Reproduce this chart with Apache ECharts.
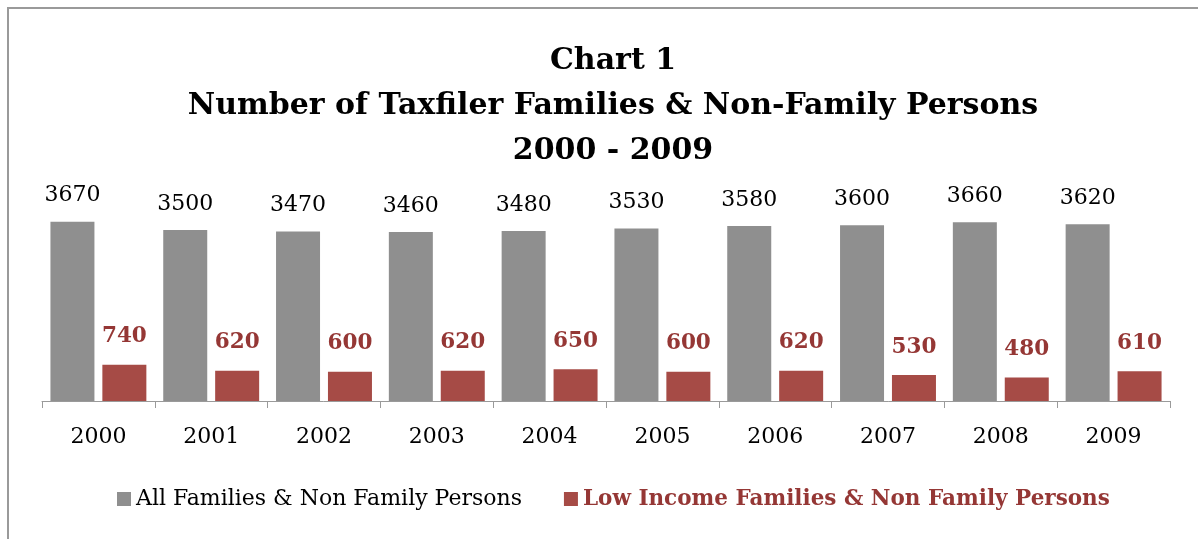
<!DOCTYPE html>
<html>
<head>
<meta charset="utf-8">
<script src="https://cdn.jsdelivr.net/npm/echarts@6/dist/echarts.min.js"></script>
<style>
html,body{margin:0;padding:0;background:#fff;}
#chart{width:1198px;height:539px;}
</style>
</head>
<body>
<div id="chart"></div>
<script>
const years = ['2000','2001','2002','2003','2004','2005','2006','2007','2008','2009'];
const allFamilies = [3670,3500,3470,3460,3480,3530,3580,3600,3660,3620];
const lowIncome = [740,620,600,620,650,600,620,530,480,610];
const seriesNames = ['All Families & Non Family Persons','Low Income Families & Non Family Persons'];
const titleLines = ['Chart 1','Number of Taxfiler Families & Non-Family Persons','2000 - 2009'];

const FONT = '"DejaVu Serif", serif';
const chart = echarts.init(document.getElementById('chart'));
chart.setOption({
  animation: false,
  backgroundColor: '#fff',
  title: {
    text: titleLines.join('\n'),
    left: 608,
    textAlign: 'center',
    top: 34,
    textStyle: {fontFamily: FONT, fontWeight: 'bold', fontSize: 30, lineHeight: 45, color: '#000'}
  },
  graphic: [{
    type: 'rect', shape: {x: 8, y: 8, width: 1400, height: 800},
    style: {fill: 'none', stroke: '#9a9a9a', lineWidth: 2}, silent: true
  }],
  legend: {
    left: 112, top: 483,
    icon: 'rect', itemWidth: 14, itemHeight: 14, itemGap: 42,
    textStyle: {fontFamily: FONT, fontSize: 22, color: '#000'},
    data: [
      {name: seriesNames[0]},
      {name: seriesNames[1], textStyle: {color: '#953735', fontWeight: 'bold', fontSize: 21.5}}
    ]
  },
  grid: {left: 42, right: 28, top: 205.6, bottom: 138},
  xAxis: {
    type: 'category', data: years,
    axisLine: {show: true, lineStyle: {color: '#9a9a9a', width: 1}},
    axisTick: {show: true, length: 7, alignWithLabel: false, lineStyle: {color: '#9a9a9a', width: 1}},
    axisLabel: {fontFamily: FONT, fontSize: 22, color: '#000', margin: 25}
  },
  yAxis: {type: 'value', min: 0, max: 4000, show: false, splitLine: {show: false}},
  series: [
    {
      name: seriesNames[0], type: 'bar', data: allFamilies,
      barWidth: 44, barGap: '18%',
      itemStyle: {color: '#8f8f8f'},
      label: {show: true, position: 'top', distance: 15, fontFamily: FONT, fontSize: 22, color: '#000'}
    },
    {
      name: seriesNames[1], type: 'bar', data: lowIncome,
      barWidth: 44,
      itemStyle: {color: '#a64b46'},
      label: {show: true, position: 'top', distance: 17, fontFamily: FONT, fontSize: 21.5, fontWeight: 'bold', color: '#953735'}
    }
  ]
});
</script>
</body>
</html>
